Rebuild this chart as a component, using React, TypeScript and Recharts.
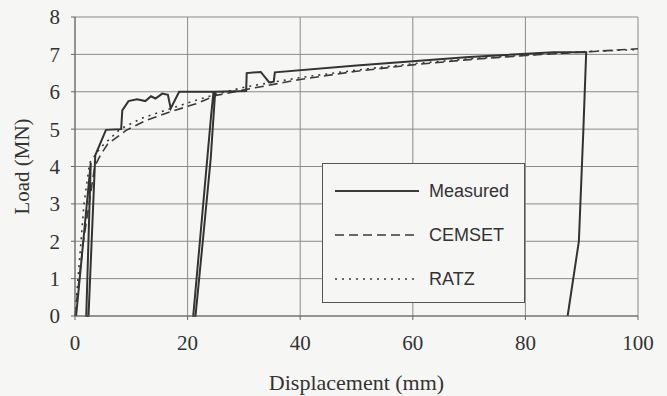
import React from 'react';
import { LineChart, Line, XAxis, YAxis, CartesianGrid } from 'recharts';

// Displacement (mm) / Load (MN)
const measuredX = [0.2, 2.8, 2.0, 2.4, 3.6, 5.5, 8.2, 8.4, 9.5, 11, 12.5, 13.5, 14.3, 15.5, 16.5, 17, 18.5, 24.6, 24.2, 21.0, 21.4, 22.7, 24.1, 24.9, 30.4, 30.5, 33, 34.5, 35.3, 35.5, 50, 70, 85, 90.8, 90.3, 89.5, 87.5];
const measuredY = [0, 4.1, 0, 0, 4.3, 4.98, 5.0, 5.5, 5.75, 5.8, 5.75, 5.88, 5.82, 5.95, 5.92, 5.55, 6.0, 6.0, 5.4, 0, 0, 2.0, 4.2, 6.0, 6.02, 6.5, 6.53, 6.25, 6.27, 6.52, 6.7, 6.93, 7.06, 7.06, 5.0, 2.0, 0];

const cemsetX = [0, 1.5, 3.5, 4.5, 5.8, 9, 12.6, 16.7, 21.5, 25, 30, 40, 50, 60, 70, 80, 90, 100];
const cemsetY = [0, 2.0, 4.0, 4.3, 4.6, 4.96, 5.23, 5.45, 5.68, 5.9, 6.05, 6.33, 6.55, 6.72, 6.86, 6.97, 7.06, 7.15];

const ratzX = [0, 0.8, 1.6, 2.6, 4.5, 8, 12, 17, 21, 25, 30, 40, 50, 60, 70, 80, 90, 100];
const ratzY = [0, 1.5, 3.0, 4.1, 4.5, 5.0, 5.3, 5.55, 5.75, 5.93, 6.12, 6.38, 6.58, 6.75, 6.88, 6.98, 7.07, 7.13];

const xTicks = [0, 20, 40, 60, 80, 100];
const yTicks = [0, 1, 2, 3, 4, 5, 6, 7, 8];

const toPoints = (xs: number[], ys: number[]) => xs.map((x, i) => ({ x, y: ys[i] }));

const measured = toPoints(measuredX, measuredY);
const cemset = toPoints(cemsetX, cemsetY);
const ratz = toPoints(ratzX, ratzY);

const ink = '#3a3a3a';
const serif = '"Liberation Serif", "DejaVu Serif", serif';
const sans = '"Liberation Sans", Arial, sans-serif';

const legendRows = [
  { name: 'Measured', dash: undefined, width: 2 },
  { name: 'CEMSET', dash: '9 5', width: 1.6 },
  { name: 'RATZ', dash: '2 5', width: 1.6 },
];

function LegendBox() {
  return (
    <div
      style={{
        position: 'absolute',
        left: 322,
        top: 163,
        width: 203,
        height: 140,
        border: '1px solid #555',
        background: '#f6f6f4',
        boxSizing: 'border-box',
        paddingTop: 5,
      }}
    >
      {legendRows.map((r) => (
        <div key={r.name} style={{ display: 'flex', alignItems: 'center', height: 44 }}>
          <svg width={94} height={10} style={{ marginLeft: 12 }}>
            <line x1={0} y1={5} x2={84} y2={5} stroke={ink} strokeWidth={r.width} strokeDasharray={r.dash} />
          </svg>
          <span style={{ fontFamily: sans, fontSize: 18, color: '#333' }}>{r.name}</span>
        </div>
      ))}
    </div>
  );
}

function App() {
  return (
    <div style={{ position: 'absolute', left: 0, top: 0, width: 667, height: 396, background: '#f6f6f4' }}>
      <LineChart width={667} height={396} margin={{ top: 17, right: 29, bottom: 2, left: 0 }}>
        <CartesianGrid stroke="#8a8a8a" strokeWidth={1} />
        <XAxis
          dataKey="x"
          type="number"
          domain={[0, 100]}
          ticks={xTicks}
          interval={0}
          allowDuplicatedCategory={false}
          stroke="#666"
          tickSize={4}
          tickMargin={15}
          height={78}
          tick={{ fontFamily: serif, fontSize: 21, fill: '#333' }}
          label={{ value: 'Displacement (mm)', position: 'insideBottom', offset: 4, style: { fontFamily: serif, fontSize: 22, fill: '#333' } }}
        />
        <YAxis
          dataKey="y"
          type="number"
          domain={[0, 8]}
          ticks={yTicks}
          interval={0}
          stroke="#666"
          tickSize={4}
          tickMargin={11}
          width={75}
          tick={{ fontFamily: serif, fontSize: 21, fill: '#333' }}
          label={{ value: 'Load (MN)', angle: -90, position: 'insideLeft', offset: 22, style: { fontFamily: serif, fontSize: 21, fill: '#333', textAnchor: 'middle' } }}
        />
        <Line data={cemset} dataKey="y" name="CEMSET" stroke={ink} strokeWidth={1.6} strokeDasharray="9 5" dot={false} isAnimationActive={false} />
        <Line data={ratz} dataKey="y" name="RATZ" stroke={ink} strokeWidth={1.6} strokeDasharray="2 5" dot={false} isAnimationActive={false} />
        <Line data={measured} dataKey="y" name="Measured" stroke="#333" strokeWidth={2} dot={false} isAnimationActive={false} />
      </LineChart>
      <LegendBox />
    </div>
  );
}

export default App;
